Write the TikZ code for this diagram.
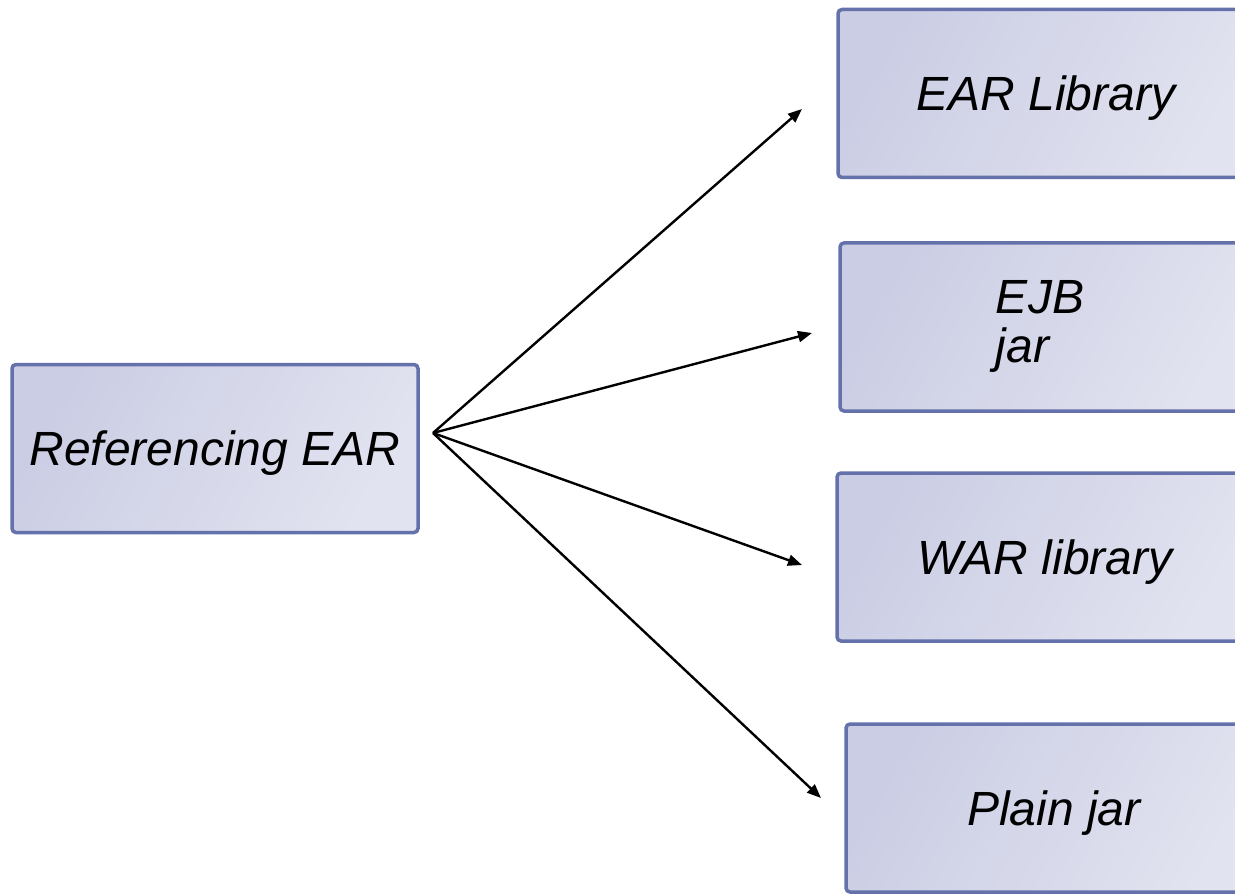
\documentclass[tikz,border=0pt]{standalone}
\usepackage{fontspec}
\setmainfont{Liberation Sans}
\usetikzlibrary{arrows.meta}
\definecolor{boxedge}{HTML}{6571AB}
\definecolor{boxdark}{HTML}{CBCDE4}
\definecolor{boxlight}{HTML}{E1E3F0}
\tikzset{
  artifact/.style={draw=boxedge, line width=3.5pt, rounded corners=4pt,
    left color=boxdark, right color=boxlight, shading angle=60,
    minimum width=416pt, minimum height=168pt, inner sep=0pt,
    text height=34pt, text depth=0pt,
    font=\fontsize{48}{50}\selectfont\itshape},
  label/.style={inner sep=0pt, align=left, font=\fontsize{48}{49}\selectfont\itshape},
  ref/.style={line width=2.4pt, -{Triangle[length=14pt,width=11pt]}}
}
\begin{document}
\begin{tikzpicture}[x=1pt, y=-1pt]
  \useasboundingbox (0,0) rectangle (1235,896);
  \clip (0,0) rectangle (1235,896);
  % source archive
  \node[artifact, minimum width=406pt] (ear) at (215,448.5) {Referencing EAR};
  % referenced modules
  \node[artifact] (earlib) at (1046,93.5) {EAR Library};
  \node[artifact] (ejb) at (1048,327) {};
  \node[label] (ejbtext) at (1040,326) {EJB\\jar};
  \node[artifact] (warlib) at (1045,557) {WAR library};
  \node[artifact] (plain) at (1054,808) {Plain jar};
  % dependency arrows
  \coordinate (hub) at (433,433);
  \coordinate (toearlib) at (802,109);
  \coordinate (toejb) at (812,333);
  \coordinate (towar) at (802,565);
  \coordinate (toplain) at (821,798);
  \draw[ref] (hub) -- (toearlib);
  \draw[ref] (hub) -- (toejb);
  \draw[ref] (hub) -- (towar);
  \draw[ref] (hub) -- (toplain);
\end{tikzpicture}
\end{document}
